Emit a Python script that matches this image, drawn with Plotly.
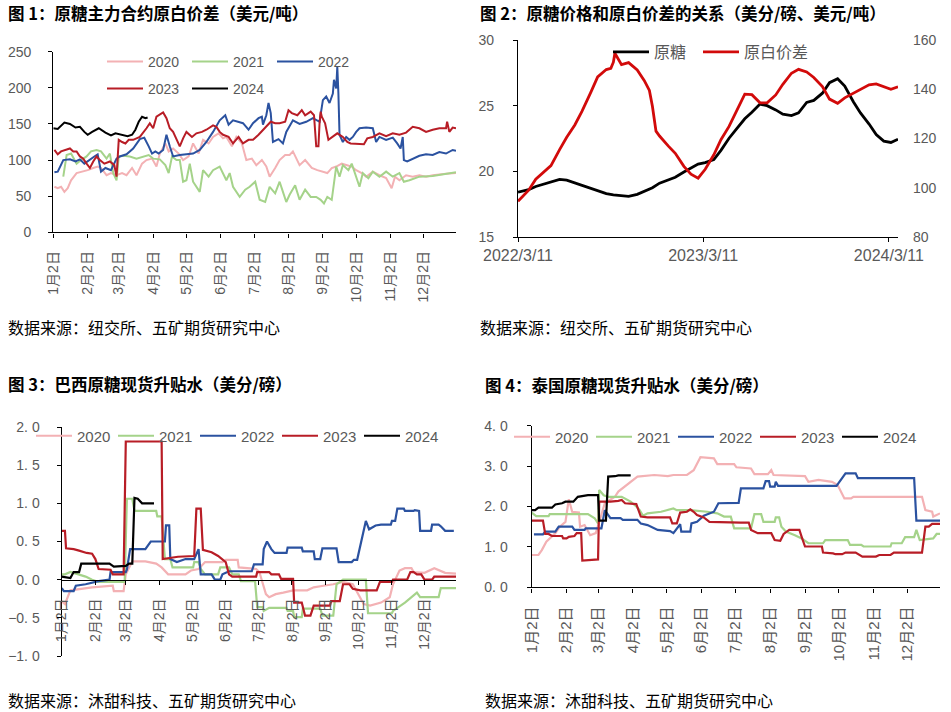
import plotly.graph_objects as go

W, H = 951, 712
YEAR = "2023"  # neutral non-leap year used for the month/day axes

FONT = "Liberation Sans, Noto Sans CJK SC, sans-serif"
CJK = "Noto Sans CJK SC, sans-serif"
GRAY = "#595959"

YEARS = ["2020", "2021", "2022", "2023", "2024"]
COLORS = ["#F3B1B4", "#A5D38A", "#2B52A0", "#B81D26", "#000000"]

MONTH_TICKS = ["01-02", "02-02", "03-02", "04-02", "05-02", "06-02",
               "07-02", "08-02", "09-02", "10-02", "11-02", "12-02"]
MONTH_LABELS = ["1月2日", "2月2日", "3月2日", "4月2日", "5月2日", "6月2日",
                "7月2日", "8月2日", "9月2日", "10月2日", "11月2日", "12月2日"]

# ---------------- Figure 1: raw-white spread (USD/t) ----------------
p1_2020_d = ["01-03","01-06","01-09","01-12","01-15","01-18","01-23","01-29","02-02","02-07","02-11","02-14","02-19","02-23","02-28","03-05","03-09","03-14","03-18","03-23","03-27","04-01","04-05","04-08","04-13","04-16","04-20","04-25","04-29","05-04","05-08","05-13","05-17","05-22","05-26","05-31","06-04","06-07","06-12","06-16","06-21","06-25","06-30","07-04","07-09","07-13","07-16","07-21","07-25","07-30","08-03","08-06","08-09","08-12","08-17","08-23","08-28","09-01","09-06","09-10","09-14","09-19","09-23","09-28","10-02","10-07","10-11","10-17","10-23","10-29","11-03","11-06","11-10","11-16","11-22","11-28","12-04","12-10","12-22","12-31"]
p1_2020_v = [63,61,63,56,61,72,82,84,86,89,91,89,79,82,79,82,79,89,79,95,100,102,91,109,123,112,116,109,100,105,123,109,128,123,132,137,130,132,119,132,123,100,102,93,100,91,77,89,100,107,107,112,102,93,100,89,86,84,82,89,91,95,93,91,86,82,77,84,79,75,61,77,72,79,77,79,77,79,81,82]

p1_2021_d = ["01-11","01-14","01-18","01-23","01-27","02-01","02-05","02-10","02-14","02-19","02-22","02-25","02-28","03-02","03-06","03-12","03-18","03-24","03-29","04-02","04-08","04-13","04-16","04-19","04-23","04-26","04-29","05-02","05-05","05-08","05-14","05-17","05-22","05-26","06-01","06-07","06-10","06-13","06-19","06-24","06-28","07-03","07-07","07-12","07-16","07-21","07-25","07-28","07-31","08-03","08-08","08-12","08-17","08-22","08-27","08-31","09-03","09-06","09-10","09-14","09-17","09-20","09-25","09-28","10-01","10-05","10-08","10-13","10-17","10-23","10-29","11-04","11-10","11-14","11-19","11-28","12-10","12-22","12-31"]
p1_2021_v = [77,107,109,95,100,105,112,114,112,102,109,82,72,105,106,105,102,105,107,102,101,93,82,105,100,100,70,72,95,70,56,86,77,86,91,72,82,63,49,59,63,70,45,42,63,54,70,56,42,52,65,45,59,49,49,45,40,49,45,91,77,93,86,95,82,63,82,75,84,77,84,77,82,70,72,77,78,81,83]

p1_2022_d = ["01-03","01-06","01-11","01-17","01-22","01-26","01-30","02-04","02-08","02-11","02-14","02-18","02-23","02-28","03-03","03-09","03-15","03-21","03-25","03-29","04-01","04-04","04-07","04-11","04-14","04-17","04-20","04-26","05-02","05-08","05-14","05-20","05-26","06-01","06-06","06-09","06-13","06-18","06-22","06-27","07-01","07-06","07-09","07-10","07-13","07-15","07-17","07-19","07-24","07-28","07-31","08-06","08-12","08-18","08-24","08-30","09-02","09-05","09-08","09-11","09-12","09-14","09-15","09-16","09-17","09-20","09-23","09-26","09-29","10-02","10-05","10-11","10-17","10-20","10-23","10-29","11-04","11-08","11-11","11-13","11-14","11-17","11-22","11-28","12-04","12-10","12-16","12-22","12-28","12-31"]
p1_2022_v = [83,84,100,101,98,101,95,101,105,108,84,89,86,102,105,108,116,129,131,119,109,112,109,114,135,119,105,107,108,109,114,125,139,155,162,149,155,153,151,142,151,158,160,149,162,179,165,125,129,123,139,155,150,153,158,153,183,188,179,192,211,199,229,192,135,125,132,128,132,139,144,145,144,125,132,128,131,123,116,132,100,98,102,106,108,107,111,109,114,113]

p1_2023_d = ["01-03","01-06","01-09","01-14","01-17","01-20","01-23","01-26","01-29","02-01","02-04","02-07","02-10","02-13","02-17","02-22","02-26","02-28","03-02","03-05","03-08","03-11","03-15","03-21","03-25","03-27","03-30","04-02","04-05","04-11","04-14","04-17","04-20","04-23","04-26","04-29","05-02","05-07","05-11","05-16","05-20","05-26","05-29","06-01","06-04","06-09","06-13","06-18","06-22","06-27","07-01","07-06","07-10","07-13","07-17","07-21","07-25","07-30","08-02","08-05","08-10","08-14","08-17","08-22","08-25","08-27","08-29","08-30","08-31","09-01","09-04","09-07","09-11","09-15","09-20","09-24","09-27","10-05","10-09","10-12","10-17","10-23","10-29","11-04","11-10","11-16","11-22","11-28","12-04","12-10","12-16","12-22","12-23","12-25","12-28","12-31"]
p1_2023_v = [114,108,112,114,116,112,112,105,102,95,89,98,105,100,95,98,93,77,128,125,123,128,128,132,139,144,151,144,160,166,158,144,139,128,119,130,139,132,137,139,142,148,146,139,135,132,123,132,123,128,128,135,142,146,153,151,151,153,169,165,162,169,162,167,162,119,119,151,167,160,151,128,132,137,132,125,123,123,122,130,132,137,133,137,135,138,146,144,139,142,144,144,153,139,145,144]

p1_2024_d = ["01-02","01-06","01-12","01-17","01-22","01-26","01-30","02-02","02-06","02-12","02-18","02-23","02-27","03-05","03-10","03-14","03-17","03-20","03-23","03-26","03-28"]
p1_2024_v = [144,143,152,150,145,146,139,135,139,144,138,134,137,135,133,135,142,153,160,158,159]

# ---------------- Figure 2: raw sugar price vs spread ----------------
p2_raw_dates = ["2022-03-11","2022-04-01","2022-04-15","2022-05-01","2022-05-15","2022-06-01","2022-06-15","2022-07-01","2022-07-15","2022-08-01","2022-08-15","2022-09-01","2022-09-15","2022-10-01","2022-10-15","2022-11-01","2022-11-15","2022-12-01","2022-12-15","2023-01-01","2023-01-15","2023-02-01","2023-02-15","2023-03-01","2023-03-15","2023-04-01","2023-04-15","2023-05-01","2023-05-15","2023-06-01","2023-06-15","2023-07-01","2023-07-15","2023-08-01","2023-08-15","2023-09-01","2023-09-15","2023-10-01","2023-10-15","2023-11-01","2023-11-15","2023-12-01","2023-12-15","2024-01-01","2024-01-15","2024-02-01","2024-02-15","2024-03-01","2024-03-15","2024-03-29"]
p2_raw_vals = [18.42,18.6,18.85,19.05,19.2,19.38,19.33,19.12,18.95,18.75,18.55,18.3,18.2,18.12,18.1,18.25,18.5,18.75,19.1,19.35,19.55,19.95,20.28,20.55,20.67,20.9,21.6,22.52,23.2,24.0,24.5,25.12,25.0,24.68,24.35,24.25,24.45,25.25,25.4,25.95,26.75,27.05,26.5,25.3,24.45,23.6,22.8,22.3,22.2,22.45]

p2_spread_dates = ["2022-03-11","2022-04-01","2022-04-15","2022-05-01","2022-05-15","2022-06-01","2022-06-15","2022-07-01","2022-07-15","2022-08-01","2022-08-15","2022-09-01","2022-09-10","2022-09-15","2022-09-18","2022-10-01","2022-10-15","2022-11-01","2022-11-15","2022-11-25","2022-12-01","2022-12-08","2022-12-15","2023-01-01","2023-01-15","2023-02-01","2023-02-15","2023-03-01","2023-03-15","2023-04-01","2023-04-15","2023-05-01","2023-05-15","2023-06-01","2023-06-15","2023-07-01","2023-07-15","2023-08-01","2023-08-15","2023-09-01","2023-09-15","2023-10-01","2023-10-15","2023-11-01","2023-11-15","2023-12-01","2023-12-15","2024-01-01","2024-01-15","2024-02-01","2024-02-15","2024-03-01","2024-03-15","2024-03-29"]
p2_spread_vals = [94.5,99,103.5,106.5,109,115.5,120.5,125.5,131,138.5,145,148,148.5,151,154.6,150,150.8,147.8,143.5,139.5,133,123,121,117,114,108.7,105.5,103.9,107.5,113.4,119.5,124.9,131,138,137.8,134.5,134.5,137.7,142,146.5,148.1,147,144.8,141.1,136,134.3,136.5,138.3,140,141.8,142.2,141.1,140,141]

P2_TICKS = ["2022-03-11", "2023-03-11", "2024-03-11"]
P2_LABELS = ["2022/3/11", "2023/3/11", "2024/3/11"]

# ---------------- Figure 3: Brazil raw sugar premium (c/lb) ----------------
p3_2020_d = ["01-02","01-05","01-10","01-18","01-30","02-18","02-19","02-28","03-02","03-08","03-20","03-30","04-04","04-10","04-26","05-01","05-08","05-14","05-30","06-02","06-13","06-14","06-30","07-03","07-06","07-09","07-12","07-18","07-25","08-03","08-16","08-22","08-31","09-09","09-18","09-27","10-07","10-13","10-23","10-31","11-03","11-09","11-14","11-20","11-22","12-02","12-11","12-17","12-21","12-31"]
p3_2020_v = [-0.28,-0.32,-0.14,-0.12,-0.10,-0.08,-0.15,-0.15,0.07,0.24,0.24,0.21,0.16,0.07,0.07,0.12,0.14,0.23,0.23,0.26,0.26,0.16,0.14,0.10,-0.03,-0.19,-0.23,-0.19,-0.17,-0.14,-0.14,-0.10,-0.08,-0.06,-0.03,-0.06,-0.32,-0.34,-0.30,-0.23,-0.06,0.12,0.15,0.15,0.10,0.09,0.15,0.12,0.09,0.08]

p3_2021_d = ["01-02","01-05","01-10","01-18","01-24","01-30","02-05","03-01","03-03","03-08","03-10","03-30","03-31","04-04","04-07","04-12","04-14","05-03","05-04","05-08","05-10","05-14","05-26","05-28","06-05","06-08","06-14","06-16","06-29","07-01","07-06","07-07","07-12","07-28","07-29","08-03","08-04","08-11","08-12","08-28","08-30","09-09","09-12","09-18","10-09","10-11","11-02","11-03","11-14","11-25","11-28","12-15","12-17","12-31"]
p3_2021_v = [0.07,0.07,0.10,0.07,0.04,0.0,-0.03,-0.03,1.06,1.06,0.90,0.90,0.83,0.83,0.27,0.27,0.16,0.16,0.23,0.23,0.14,0.07,0.07,0.16,0.16,0.07,0.07,-0.02,-0.02,-0.36,-0.36,-0.41,-0.37,-0.37,-0.41,-0.41,-0.49,-0.49,-0.38,-0.38,-0.47,-0.47,-0.06,0.0,0.0,-0.44,-0.44,-0.41,-0.30,-0.17,-0.23,-0.23,-0.11,-0.11]

p3_2022_d = ["01-02","01-04","01-13","01-15","01-24","02-05","02-15","02-16","03-02","03-03","03-06","03-20","03-25","04-07","04-08","04-11","04-12","04-18","04-26","05-04","05-08","05-10","05-20","05-23","05-28","05-30","06-05","06-26","06-28","07-06","07-07","07-10","07-14","07-17","07-28","07-29","08-11","08-12","08-22","08-23","08-28","08-30","09-12","09-14","09-26","09-28","10-01","10-09","10-12","10-18","10-23","11-01","11-02","11-05","11-07","11-13","11-14","11-22","11-23","11-27","11-28","12-08","12-09","12-15","12-17","12-21","12-29"]
p3_2022_v = [-0.11,-0.15,-0.15,-0.08,-0.06,-0.02,0.0,0.10,0.10,0.13,0.40,0.40,0.50,0.50,0.71,0.71,0.27,0.23,0.27,0.27,0.40,0.07,0.07,0.0,0.0,0.07,0.11,0.11,0.20,0.20,0.40,0.50,0.40,0.35,0.35,0.42,0.42,0.37,0.37,0.27,0.27,0.41,0.41,0.23,0.23,0.26,0.26,0.77,0.66,0.71,0.72,0.72,0.77,0.77,0.93,0.93,0.90,0.90,0.91,0.90,0.64,0.64,0.72,0.72,0.70,0.64,0.64]

p3_2023_d = ["01-02","01-05","01-06","01-13","01-18","01-25","01-30","02-02","02-05","02-16","02-18","02-28","03-02","04-04","04-05","04-19","05-04","05-06","05-10","05-12","05-20","05-26","06-02","06-05","06-08","06-30","07-01","07-12","07-14","07-21","07-23","08-03","08-04","08-11","08-14","08-19","08-22","09-06","09-07","09-15","09-18","09-24","09-27","10-04","10-19","10-22","11-02","11-03","11-16","11-19","11-22","11-25","11-29","12-02","12-09","12-11","12-31"]
p3_2023_v = [0.64,0.64,0.41,0.40,0.38,0.35,0.34,0.27,0.14,0.13,0.07,0.07,1.81,1.81,0.27,0.30,0.31,0.93,0.93,0.39,0.36,0.31,0.23,0.07,0.04,0.04,0.10,0.10,0.07,0.07,0.01,0.01,-0.30,-0.30,-0.47,-0.47,-0.34,-0.34,-0.28,-0.28,-0.06,-0.06,-0.12,-0.14,-0.14,-0.03,-0.03,0.0,0.0,0.10,0.10,0.07,0.07,0.0,0.0,0.04,0.04]

p3_2024_d = ["01-02","01-05","01-10","01-13","01-18","01-20","02-15","02-19","03-02","03-05","03-08","03-10","03-13","03-17","03-28"]
p3_2024_v = [0.04,0.03,0.02,0.10,0.10,0.21,0.21,0.17,0.18,0.21,0.21,1.07,1.06,1.0,1.0]

P3_TICKS = [-1.0, -0.5, 0.0, 0.5, 1.0, 1.5, 2.0]
P3_LABELS = ["−1. 0", "−0. 5", "0. 0", "0. 5", "1. 0", "1. 5", "2. 0"]

# ---------------- Figure 4: Thai raw sugar premium (c/lb) ----------------
p4_2020_d = ["01-02","01-08","01-11","01-15","01-23","01-27","02-01","02-04","02-07","02-13","02-14","02-18","02-23","02-28","03-08","03-17","03-20","03-27","04-06","04-21","05-03","05-08","05-20","05-26","06-01","06-13","06-16","07-01","07-03","07-16","07-19","07-31","08-03","08-05","09-02","09-05","09-14","09-26","10-01","10-07","10-13","10-15","12-15","12-18","12-24","12-25","12-31"]
p4_2020_v = [0.80,0.80,0.92,1.13,1.34,1.50,1.62,2.18,1.87,1.85,1.50,1.54,1.29,1.34,2.08,2.24,2.37,2.53,2.74,2.78,2.75,2.78,2.78,2.90,3.22,3.19,3.05,3.05,2.97,2.94,2.80,2.80,2.90,2.78,2.75,2.61,2.66,2.61,2.53,2.20,2.20,2.24,2.24,1.91,1.87,1.75,1.83]

p4_2021_d = ["01-02","01-06","01-17","01-18","02-21","02-27","03-02","03-03","03-07","03-11","03-23","03-31","04-05","04-08","04-11","04-15","04-27","05-08","05-11","05-23","06-07","06-16","06-22","06-28","07-01","07-16","07-19","07-25","07-27","08-06","08-07","08-10","08-12","08-16","08-24","08-30","09-05","09-18","09-20","10-10","10-12","10-22","10-24","11-17","11-18","11-27","11-30","12-08","12-10","12-13","12-25","12-28","12-31"]
p4_2021_v = [1.85,1.76,1.76,1.81,1.81,1.71,1.58,2.41,2.28,2.24,2.24,2.12,2.0,1.91,1.77,1.83,1.87,1.95,1.91,1.91,1.87,1.83,1.75,1.75,1.46,1.46,1.81,1.81,1.62,1.62,1.73,1.73,1.50,1.38,1.29,1.21,1.09,1.09,1.17,1.17,1.05,1.05,1.01,1.01,1.09,1.09,1.24,1.24,1.42,1.17,1.21,1.32,1.32]

p4_2022_d = ["01-04","01-12","01-14","01-23","01-26","02-07","02-09","02-18","02-19","03-05","03-08","03-13","03-22","03-24","04-06","04-09","04-15","04-24","05-05","05-08","05-14","05-15","05-23","05-24","05-29","06-04","06-13","06-17","07-05","07-07","07-27","07-29","08-01","08-02","08-06","08-07","08-09","09-30","10-08","10-17","10-19","12-08","12-10","12-31"]
p4_2022_v = [1.31,1.31,1.38,1.38,1.50,1.50,1.42,1.42,1.46,1.46,1.91,1.71,1.71,1.67,1.67,1.58,1.54,1.42,1.39,1.34,1.56,1.38,1.38,1.58,1.62,1.77,1.87,2.08,2.09,2.45,2.45,2.63,2.63,2.49,2.49,2.61,2.51,2.51,2.82,2.82,2.70,2.70,1.65,1.65]

p4_2023_d = ["01-02","01-12","01-14","01-17","01-20","01-29","01-30","02-02","02-04","02-09","02-11","02-15","02-16","02-23","03-02","03-03","03-13","03-20","03-23","03-26","04-05","04-09","04-15","05-05","05-07","05-11","05-14","05-20","05-23","05-26","05-29","06-04","06-09","07-07","07-14","07-16","07-22","08-03","08-06","08-11","08-14","08-19","08-28","08-30","09-02","09-17","09-18","09-27","09-29","10-05","10-08","10-17","10-23","11-04","11-07","11-17","11-20","12-15","12-18","12-21","12-24","12-31"]
p4_2023_v = [1.65,1.65,1.32,1.32,1.27,1.27,1.21,1.21,1.25,1.27,1.34,1.34,0.66,0.68,0.69,2.12,2.12,2.14,2.16,2.08,2.06,1.75,1.73,1.73,1.58,1.58,1.85,1.87,1.93,1.87,1.79,1.73,1.62,1.60,1.60,1.42,1.34,1.34,1.17,1.15,1.32,1.42,1.42,1.25,1.01,1.01,0.86,0.84,0.82,0.82,0.86,0.86,0.76,0.76,0.80,0.80,0.86,0.86,1.50,1.50,1.57,1.57]

p4_2024_d = ["01-02","01-05","01-08","01-20","01-23","01-29","02-01","02-08","02-12","02-18","02-21","03-02","03-03","03-09","03-11","03-17","03-20","03-31"]
p4_2024_v = [1.91,1.91,1.97,1.97,2.05,2.08,2.12,2.12,2.24,2.26,2.28,2.28,1.65,1.65,2.74,2.75,2.77,2.77]

P4_TICKS = [0, 1, 2, 3, 4]
P4_LABELS = ["0. 0", "1. 0", "2. 0", "3. 0", "4. 0"]

TITLES = ["图 1：原糖主力合约原白价差（美元/吨）",
          "图 2：原糖价格和原白价差的关系（美分/磅、美元/吨）",
          "图 3：巴西原糖现货升贴水（美分/磅）",
          "图 4：泰国原糖现货升贴水（美分/磅）"]
SOURCES = ["数据来源：纽交所、五矿期货研究中心",
           "数据来源：纽交所、五矿期货研究中心",
           "数据来源：沐甜科技、五矿期货研究中心",
           "数据来源：沐甜科技、五矿期货研究中心"]


def md(ds):
    return [f"{YEAR}-{d}" for d in ds]


def px(x):
    return x / W


def py(y):
    return 1 - y / H


fig = go.Figure()

p1 = [(p1_2020_d, p1_2020_v), (p1_2021_d, p1_2021_v), (p1_2022_d, p1_2022_v),
      (p1_2023_d, p1_2023_v), (p1_2024_d, p1_2024_v)]
p3 = [(p3_2020_d, p3_2020_v), (p3_2021_d, p3_2021_v), (p3_2022_d, p3_2022_v),
      (p3_2023_d, p3_2023_v), (p3_2024_d, p3_2024_v)]
p4 = [(p4_2020_d, p4_2020_v), (p4_2021_d, p4_2021_v), (p4_2022_d, p4_2022_v),
      (p4_2023_d, p4_2023_v), (p4_2024_d, p4_2024_v)]

for i, (d, v) in enumerate(p1):
    assert len(d) == len(v)
    fig.add_trace(go.Scatter(x=md(d), y=v, mode="lines", name=YEARS[i],
                             line=dict(color=COLORS[i], width=2),
                             xaxis="x", yaxis="y",
                             legend="legend" if i < 3 else "legend2"))

assert len(p2_raw_dates) == len(p2_raw_vals)
assert len(p2_spread_dates) == len(p2_spread_vals)
fig.add_trace(go.Scatter(x=p2_raw_dates, y=p2_raw_vals, mode="lines", name="原糖",
                         line=dict(color="#000000", width=2.8),
                         xaxis="x2", yaxis="y2", legend="legend3"))
fig.add_trace(go.Scatter(x=p2_spread_dates, y=p2_spread_vals, mode="lines", name="原白价差",
                         line=dict(color="#D20A0A", width=2.8),
                         xaxis="x2", yaxis="y5", legend="legend6"))

for i, (d, v) in enumerate(p3):
    assert len(d) == len(v)
    fig.add_trace(go.Scatter(x=md(d), y=v, mode="lines", name=YEARS[i],
                             line=dict(color=COLORS[i], width=2.2),
                             xaxis="x3", yaxis="y3", legend="legend4"))

for i, (d, v) in enumerate(p4):
    assert len(d) == len(v)
    fig.add_trace(go.Scatter(x=md(d), y=v, mode="lines", name=YEARS[i],
                             line=dict(color=COLORS[i], width=2.2),
                             xaxis="x4", yaxis="y4", legend="legend5"))

axis_common = dict(showgrid=False, zeroline=False, showline=True, linecolor="#000000",
                   linewidth=1.4, ticks="outside", ticklen=4, tickwidth=1.2,
                   tickcolor="#000000")

month_x = dict(axis_common, type="date", tickmode="array",
               tickvals=md(MONTH_TICKS), ticktext=MONTH_LABELS, tickangle=-90,
               range=[f"{YEAR}-01-02", f"{YEAR}-12-31"],
               tickfont=dict(family=FONT, size=14, color=GRAY), ticklabelstandoff=8)

# Panel 3 y-domain and zero-line position
p3_dom = [py(656), py(427)]
p3_zero = p3_dom[0] + (0 - (-1.0)) / (2.0 - (-1.0)) * (p3_dom[1] - p3_dom[0])

fig.update_layout(
    width=W, height=H, margin=dict(l=0, r=0, t=0, b=0, autoexpand=False), autosize=False,
    paper_bgcolor="white", plot_bgcolor="white", showlegend=True,
    font=dict(family=FONT, color=GRAY),
    xaxis=dict(month_x, domain=[px(53.3), px(456)], anchor="y"),
    yaxis=dict(axis_common, domain=[py(232.3), py(51.7)], range=[0, 250], dtick=50,
               anchor="x", tickfont=dict(family=FONT, size=14, color=GRAY),
               ticklabelstandoff=14),
    xaxis2=dict(axis_common, type="date", domain=[px(518), px(898)], anchor="y2",
                range=["2022-03-11", "2024-03-29"], tickmode="array",
                tickvals=P2_TICKS, ticktext=P2_LABELS, tickangle=0,
                tickfont=dict(family=FONT, size=16, color=GRAY), ticklabelstandoff=0),
    yaxis2=dict(axis_common, domain=[py(237), py(40)], range=[15, 30], dtick=5,
                anchor="x2", tickfont=dict(family=FONT, size=14, color=GRAY),
                ticklabelstandoff=16),
    yaxis5=dict(showgrid=False, zeroline=False, showline=False, ticks="",
                overlaying="y2", side="right", anchor="x2", range=[80, 160], dtick=20,
                tickfont=dict(family=FONT, size=14, color=GRAY), ticklabelstandoff=14),
    xaxis3=dict(month_x, domain=[px(61.7), px(456)], anchor="free", position=p3_zero),
    yaxis3=dict(axis_common, domain=p3_dom, range=[-1.0, 2.0], tickmode="array",
                tickvals=P3_TICKS, ticktext=P3_LABELS, anchor="x3",
                tickfont=dict(family=FONT, size=14, color=GRAY), ticklabelstandoff=14),
    xaxis4=dict(month_x, domain=[px(531.7), px(940)], anchor="y4",
                tickfont=dict(family=FONT, size=15, color=GRAY)),
    yaxis4=dict(axis_common, domain=[py(587.3), py(425.7)], range=[0, 4],
                tickmode="array", tickvals=P4_TICKS, ticktext=P4_LABELS, anchor="x4",
                tickfont=dict(family=FONT, size=14, color=GRAY), ticklabelstandoff=16),
)

leg_common = dict(orientation="h", xanchor="left", yanchor="middle",
                  bgcolor="rgba(0,0,0,0)", borderwidth=0, entrywidthmode="pixels",
                  traceorder="normal", itemwidth=36)
fig.update_layout(
    legend=dict(leg_common, x=px(102), y=py(62), entrywidth=34,
                font=dict(family=FONT, size=14, color=GRAY)),
    legend2=dict(leg_common, x=px(102), y=py(89), entrywidth=34,
                 font=dict(family=FONT, size=14, color=GRAY)),
    legend3=dict(leg_common, x=px(608), y=py(52),
                 font=dict(family=CJK, size=16, color=GRAY)),
    legend6=dict(leg_common, x=px(698), y=py(52),
                 font=dict(family=CJK, size=16, color=GRAY)),
    legend4=dict(leg_common, x=px(31), y=py(436), entrywidth=31,
                 font=dict(family=FONT, size=15, color=GRAY)),
    legend5=dict(leg_common, x=px(509), y=py(437), entrywidth=31,
                 font=dict(family=FONT, size=15, color=GRAY)),
)

title_pos = [(6, 12.7), (478, 12.7), (6, 384), (483, 385)]
source_pos = [(6, 327), (478, 327), (6, 700), (483, 700)]
for t, (x, y) in zip(TITLES, title_pos):
    fig.add_annotation(text=f"<b>{t}</b>", x=px(x), y=py(y), xref="paper", yref="paper",
                       xanchor="left", yanchor="middle", showarrow=False,
                       font=dict(family=CJK, size=16.5, color="#000000"))
for s, (x, y) in zip(SOURCES, source_pos):
    fig.add_annotation(text=s, x=px(x), y=py(y), xref="paper", yref="paper",
                       xanchor="left", yanchor="middle", showarrow=False,
                       font=dict(family=CJK, size=16, color="#000000"))

fig.write_html(
    "out.html", include_plotlyjs=True, config={"displayModeBar": False},
    post_script="document.body.style.margin='0px';document.body.style.padding='0px';",
)
